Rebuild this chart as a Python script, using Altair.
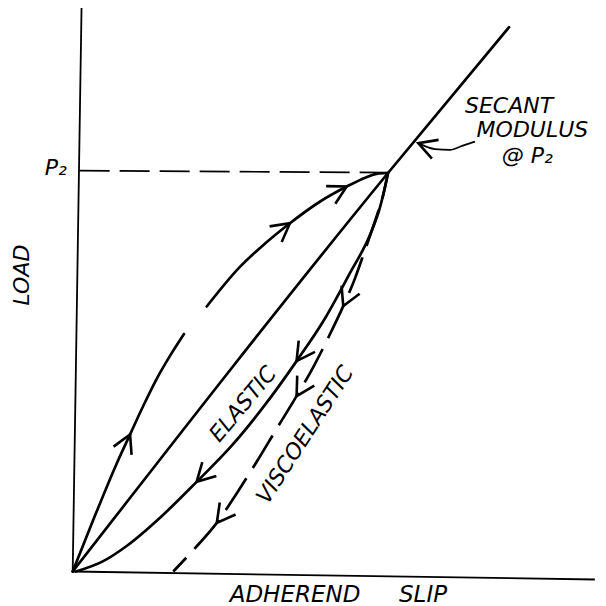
import math
import altair as alt
import numpy as np
import pandas as pd

# ---------------- data (slip and load in relative units, P2 = 100) ----------------
load_axis_x = [0.0, 2.8]
load_axis_y = [0.0, 141.4]
slip_axis_x = [0.0, 165.6]
slip_axis_y = [0.0, -2.0]

secant_x = [0.0, 100.0, 138.4]
secant_y = [0.0, 100.0, 136.6]

p2_level_x = [2.2, 100.0]
p2_level_y = [100.6, 100.1]

loading_lower_x = [0.0, 6.5, 13.9, 18.2, 22.4, 26.6, 31.0, 35.3]
loading_lower_y = [0.0, 12.9, 27.0, 34.4, 41.6, 48.3, 54.3, 59.6]
loading_upper_x = [42.5, 53.1, 61.0, 68.9, 78.0, 86.9, 93.0, 96.4, 100.0]
loading_upper_y = [66.5, 76.5, 82.3, 87.4, 92.6, 96.6, 98.9, 99.8, 100.0]

unloading_x = [1.0, 9.7, 17.1, 27.7, 39.3, 50.0, 60.0, 71.0, 80.0, 88.0, 94.3, 97.5, 100.0]
unloading_y = [0.0, 2.6, 6.4, 13.5, 22.5, 31.2, 40.8, 52.8, 63.5, 75.0, 84.5, 91.5, 100.0]

visco_x = [31.9, 38.5, 45.7, 52.0, 58.4, 64.5, 71.0, 76.3, 81.0, 85.8, 89.5, 92.5, 96.4, 98.5, 100.0]
visco_y = [0.0, 5.6, 12.2, 19.6, 27.6, 35.6, 44.0, 51.3, 58.6, 66.6, 73.5, 80.2, 89.2, 94.5, 100.0]

pointer_x = [109.6, 114.9, 119.7, 123.5, 127.6]
pointer_y = [107.5, 106.0, 105.8, 106.8, 107.9]

loading_arrow_x = [18.2, 68.9, 86.9]
loading_arrow_y = [34.4, 87.4, 96.6]
unloading_arrow_x = [71.0, 39.3]
unloading_arrow_y = [52.8, 22.5]
visco_arrow_x = [85.8, 71.0, 45.7]
visco_arrow_y = [66.6, 44.0, 12.2]

note_text = ["SECANT", "MODULUS", "@ P₂", "P₂"]
note_x = [138.4, 145.8, 144.2, -5.4]
note_y = [115.0, 109.1, 102.5, 99.5]

slip_title = ["ADHEREND", "SLIP"]
slip_title_x = [70.5, 111.1]
slip_title_y = [-7.7, -7.7]

rot_text = ["LOAD", "ELASTIC", "VISCOELASTIC"]
rot_x = [-16.2, 54.0, 73.7]
rot_y = [74.4, 42.0, 34.3]
rot_angle = [270, 310, 303]

# ---------------- scales ----------------
W, H = 590, 598
XMIN, XMAX = -20.52, 166.6
YMAX = 141.41
KX = W / (XMAX - XMIN)
KY = 3.985
YMIN = YMAX - H / KY

xs = alt.Scale(domain=[XMIN, XMAX], nice=False, zero=False)
ys = alt.Scale(domain=[YMIN, YMAX], nice=False, zero=False)


def X(f="x"):
    return alt.X(f"{f}:Q", scale=xs, axis=None)


def Y(f="y"):
    return alt.Y(f"{f}:Q", scale=ys, axis=None)


def series(name, xv, yv):
    return pd.DataFrame({"x": xv, "y": yv, "s": name, "i": range(len(xv))})


def tangent_angle(cx, cy, px, forward):
    cx, cy = np.array(cx), np.array(cy)
    h = 1.2
    y1 = np.interp(px - h, cx, cy)
    y2 = np.interp(px + h, cx, cy)
    dx, dy = 2 * h * KX, -(y2 - y1) * KY
    if not forward:
        dx, dy = -dx, -dy
    return math.degrees(math.atan2(dy, dx)) % 360


arrows = []
for ax_, ay_ in zip(loading_arrow_x, loading_arrow_y):
    cx = loading_lower_x + loading_upper_x
    cy = loading_lower_y + loading_upper_y
    arrows.append((ax_, ay_, tangent_angle(cx, cy, ax_, True)))
for ax_, ay_ in zip(unloading_arrow_x, unloading_arrow_y):
    arrows.append((ax_, ay_, tangent_angle(unloading_x, unloading_y, ax_, False)))
for ax_, ay_ in zip(visco_arrow_x, visco_arrow_y):
    arrows.append((ax_, ay_, tangent_angle(visco_x, visco_y, ax_, False)))
pdx = (pointer_x[0] - pointer_x[1]) * KX
pdy = -(pointer_y[0] - pointer_y[1]) * KY
arrows.append((pointer_x[0], pointer_y[0], math.degrees(math.atan2(pdy, pdx)) % 360))
arrow_df = pd.DataFrame(arrows, columns=["x", "y", "angle"])

# ---------------- layers ----------------
axes_df = pd.concat([series("load", load_axis_x, load_axis_y),
                     series("slip", slip_axis_x, slip_axis_y)])
axes = alt.Chart(axes_df).mark_line(color="black", strokeWidth=1.8).encode(
    x=X(), y=Y(), detail="s:N", order="i:Q")

solid_df = pd.concat([
    series("secant", secant_x, secant_y),
    series("load_a", loading_lower_x, loading_lower_y),
    series("load_b", loading_upper_x, loading_upper_y),
    series("unload", unloading_x, unloading_y),
])
solid = alt.Chart(solid_df).mark_line(
    color="black", strokeWidth=2.7, interpolate="monotone", strokeCap="round"
).encode(x=X(), y=Y(), detail="s:N", order="i:Q")

visco = alt.Chart(series("visco", visco_x, visco_y)).mark_line(
    color="black", strokeWidth=2.7, interpolate="monotone",
    strokeDash=[38, 12], strokeDashOffset=19
).encode(x=X(), y=Y(), order="i:Q")

p2_line = alt.Chart(series("p2", p2_level_x, p2_level_y)).mark_line(
    color="black", strokeWidth=1.7, strokeDash=[30, 10]
).encode(x=X(), y=Y(), order="i:Q")

pointer = alt.Chart(series("ptr", pointer_x, pointer_y)).mark_line(
    color="black", strokeWidth=1.8, interpolate="monotone"
).encode(x=X(), y=Y(), order="i:Q")

heads = alt.Chart(arrow_df).mark_point(
    shape="M-1,-0.55L0,0L-1,0.55", filled=False, size=1300, strokeWidth=2.6,
    color="black", opacity=1, strokeJoin="miter"
).encode(x=X(), y=Y(), angle=alt.Angle("angle:Q", scale=None))

font = "DejaVu Sans"
notes = alt.Chart(pd.DataFrame({"t": note_text, "x": note_x, "y": note_y})).mark_text(
    font=font, fontSize=22, fontStyle="italic", align="center", baseline="alphabetic",
    color="black"
).encode(x=X(), y=Y(), text="t:N")

slip = alt.Chart(pd.DataFrame({"t": slip_title, "x": slip_title_x, "y": slip_title_y})).mark_text(
    font=font, fontSize=23, fontStyle="italic", align="center", baseline="alphabetic",
    color="black"
).encode(x=X(), y=Y(), text="t:N")

rot = alt.Chart(pd.DataFrame({"t": rot_text, "x": rot_x, "y": rot_y, "a": rot_angle})).mark_text(
    font=font, fontSize=22, fontStyle="italic", align="center", baseline="middle",
    color="black"
).encode(x=X(), y=Y(), text="t:N", angle=alt.Angle("a:Q", scale=None))

chart = alt.layer(axes, p2_line, solid, visco, pointer, heads, notes, slip, rot).properties(
    width=W, height=H, padding=0, autosize=alt.AutoSizeParams(type="none"),
    background="white"
).configure_view(stroke=None)

chart.save("out.html", embed_options={"renderer": "svg", "actions": False})
